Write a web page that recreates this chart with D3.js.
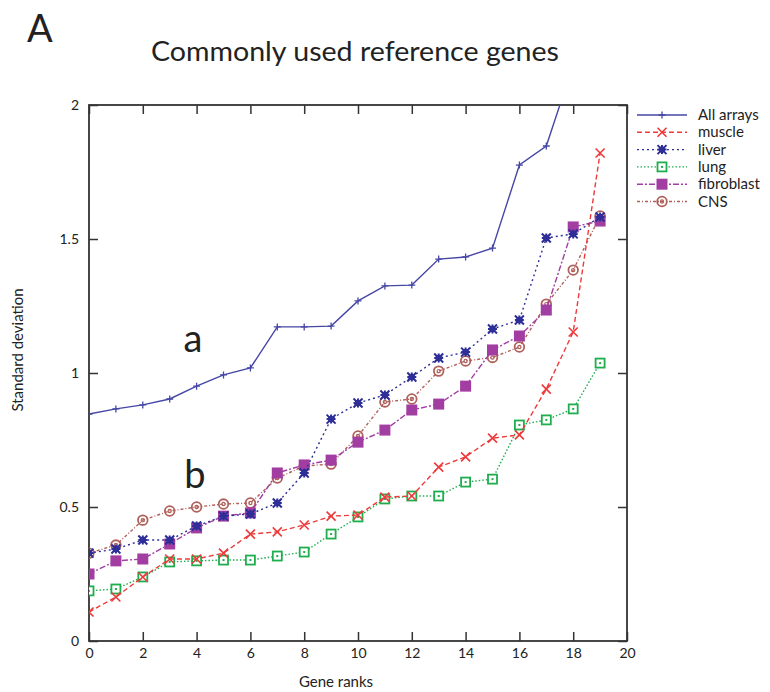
<!DOCTYPE html>
<html>
<head>
<meta charset="utf-8">
<style>
  body { margin: 0; background: #fff; }
  svg { display: block; }
  text { font-family: "Lato", "Open Sans", sans-serif; fill: #222; }
  .tick text { font-size: 14px; }
  .legend text { font-size: 15px; }
</style>
</head>
<body>
<svg width="770" height="692"></svg>
<script src="https://d3js.org/d3.v7.min.js"></script>
<script>
// gene ranks
var ranks = d3.range(0, 20);

var allArrays = [0.847, 0.866, 0.881, 0.903, 0.951, 0.993, 1.019, 1.172, 1.172, 1.175,
                 1.269, 1.325, 1.328, 1.425, 1.433, 1.466, 1.776, 1.847, 2.15, 2.55];
var muscle = [0.108, 0.164, 0.239, 0.306, 0.306, 0.328, 0.399, 0.407, 0.433, 0.466,
              0.470, 0.537, 0.541, 0.649, 0.687, 0.757, 0.769, 0.940, 1.153, 1.821];
var liver = [0.328, 0.343, 0.377, 0.377, 0.429, 0.466, 0.474, 0.515, 0.627, 0.828,
             0.888, 0.918, 0.985, 1.056, 1.078, 1.164, 1.198, 1.504, 1.519, 1.582];
var lung = [0.187, 0.194, 0.239, 0.295, 0.299, 0.302, 0.302, 0.317, 0.332, 0.399,
            0.463, 0.530, 0.541, 0.541, 0.593, 0.604, 0.806, 0.825, 0.866, 1.037];
var fibroblast = [0.250, 0.299, 0.306, 0.362, 0.422, 0.466, 0.478, 0.627, 0.657, 0.675,
                  0.742, 0.787, 0.862, 0.884, 0.951, 1.086, 1.138, 1.235, 1.545, 1.567];
var cns = [0.328, 0.358, 0.451, 0.485, 0.500, 0.511, 0.515, 0.608, 0.653, 0.660,
           0.765, 0.892, 0.903, 1.007, 1.045, 1.058, 1.097, 1.257, 1.384, 1.586];

var xTicks = [0, 2, 4, 6, 8, 10, 12, 14, 16, 18, 20];
var yTicks = [0, 0.5, 1, 1.5, 2];

var series = [
  { name: "All arrays", values: allArrays, color: "#4646a6", dash: null, marker: "plus" },
  { name: "muscle", values: muscle, color: "#ee3a3a", dash: "5,3", marker: "cross" },
  { name: "liver", values: liver, color: "#2e2e98", dash: "2,3", marker: "star" },
  { name: "lung", values: lung, color: "#1eae4e", dash: "1.5,2", marker: "square" },
  { name: "fibroblast", values: fibroblast, color: "#a23ea2", dash: "6,2,2,2", marker: "fsquare" },
  { name: "CNS", values: cns, color: "#b0605a", dash: "3,2,1,2", marker: "circle" }
];

var svg = d3.select("svg");
var x0 = 89, x1 = 627, y0 = 641, y1 = 105;

var x = d3.scaleLinear().domain([0, 20]).range([x0, x1]);
var y = d3.scaleLinear().domain([0, 2]).range([y0, y1]);

// titles
svg.append("text").attr("x", 27).attr("y", 42)
  .style("font-size", "38px").text("A");
svg.append("text").attr("x", 355).attr("y", 61).attr("text-anchor", "middle")
  .style("font-size", "26px").attr("textLength", 408).attr("lengthAdjust", "spacingAndGlyphs")
  .text("Commonly used reference genes");

// clip
svg.append("clipPath").attr("id", "clip")
  .append("rect").attr("x", x0).attr("y", y1).attr("width", x1 - x0).attr("height", y0 - y1);

// axes with inward ticks on all sides
var tl = 9;
svg.append("g").attr("transform", "translate(0," + y0 + ")")
  .call(d3.axisBottom(x).tickValues(xTicks).tickSizeInner(-tl).tickSizeOuter(0).tickPadding(7))
  .call(function (g) { g.select(".domain").remove(); });
svg.append("g").attr("transform", "translate(0," + y1 + ")")
  .call(d3.axisTop(x).tickValues(xTicks).tickSizeInner(-tl).tickSizeOuter(0).tickFormat(""))
  .call(function (g) { g.select(".domain").remove(); });
svg.append("g").attr("transform", "translate(" + x0 + ",0)")
  .call(d3.axisLeft(y).tickValues(yTicks).tickSizeInner(-tl).tickSizeOuter(0).tickPadding(10)
    .tickFormat(d3.format("")))
  .call(function (g) { g.select(".domain").remove(); });
svg.append("g").attr("transform", "translate(" + x1 + ",0)")
  .call(d3.axisRight(y).tickValues(yTicks).tickSizeInner(-tl).tickSizeOuter(0).tickFormat(""))
  .call(function (g) { g.select(".domain").remove(); });
svg.selectAll(".tick line").attr("stroke", "#333").attr("stroke-width", 1.5);

svg.append("rect").attr("x", x0).attr("y", y1).attr("width", x1 - x0).attr("height", y0 - y1)
  .attr("fill", "none").attr("stroke", "#333").attr("stroke-width", 1.8);

svg.append("text").attr("x", 336).attr("y", 687).attr("text-anchor", "middle")
  .style("font-size", "15px").text("Gene ranks");
svg.append("text").attr("transform", "translate(23,350) rotate(-90)").attr("text-anchor", "middle")
  .style("font-size", "15px").text("Standard deviation");

// annotations
svg.append("text").attr("x", 193).attr("y", 352).attr("text-anchor", "middle")
  .style("font-size", "38px").text("a");
svg.append("text").attr("x", 195).attr("y", 488).attr("text-anchor", "middle")
  .style("font-size", "38px").text("b");

function marker(g, type, color) {
  if (type === "plus") {
    g.append("path").attr("d", "M-3.5,0H3.5M0,-3.5V3.5").attr("stroke", color).attr("stroke-width", 1.3);
  } else if (type === "cross") {
    g.append("path").attr("d", "M-4.5,-4.5L4.5,4.5M-4.5,4.5L4.5,-4.5").attr("stroke", color).attr("stroke-width", 1.6);
  } else if (type === "star") {
    g.append("path").attr("d", "M-4.5,-4.5L4.5,4.5M-4.5,4.5L4.5,-4.5M-4.5,0H4.5M0,-4.5V4.5")
      .attr("stroke", color).attr("stroke-width", 2);
    g.append("rect").attr("x", -3).attr("y", -3).attr("width", 6).attr("height", 6).attr("fill", color);
  } else if (type === "square") {
    g.append("rect").attr("x", -4.5).attr("y", -4.5).attr("width", 9).attr("height", 9)
      .attr("fill", "#fff").attr("stroke", color).attr("stroke-width", 1.8);
    g.append("rect").attr("x", -1).attr("y", -1).attr("width", 2).attr("height", 2).attr("fill", color);
  } else if (type === "fsquare") {
    g.append("rect").attr("x", -5.5).attr("y", -5.5).attr("width", 11).attr("height", 11).attr("fill", color);
  } else if (type === "circle") {
    g.append("circle").attr("r", 4.8).attr("fill", "none").attr("stroke", color).attr("stroke-width", 1.8);
    g.append("circle").attr("r", 1.6).attr("fill", "none").attr("stroke", color).attr("stroke-width", 1.2);
  }
}

var line = d3.line().x(function (d, i) { return x(ranks[i]); }).y(function (d) { return y(d); });

var plot = svg.append("g").attr("clip-path", "url(#clip)");
series.slice().reverse().forEach(function (s) {
  var g = plot.append("g");
  g.append("path").datum(s.values).attr("d", line).attr("fill", "none")
    .attr("stroke", s.color).attr("stroke-width", 1.4)
    .attr("stroke-dasharray", s.dash);
  g.selectAll("g.pt").data(s.values).enter().append("g").attr("class", "pt")
    .attr("transform", function (d, i) { return "translate(" + x(ranks[i]) + "," + y(d) + ")"; })
    .each(function () { marker(d3.select(this), s.marker, s.color); });
});

// legend
var leg = svg.append("g").attr("class", "legend");
series.forEach(function (s, i) {
  var ly = 115 + i * 17.3;
  leg.append("line").attr("x1", 637).attr("x2", 687).attr("y1", ly).attr("y2", ly)
    .attr("stroke", s.color).attr("stroke-width", 1.4).attr("stroke-dasharray", s.dash);
  marker(leg.append("g").attr("transform", "translate(662," + ly + ")"), s.marker, s.color);
  leg.append("text").attr("x", 698).attr("y", ly + 5).text(s.name);
});
</script>
</body>
</html>
